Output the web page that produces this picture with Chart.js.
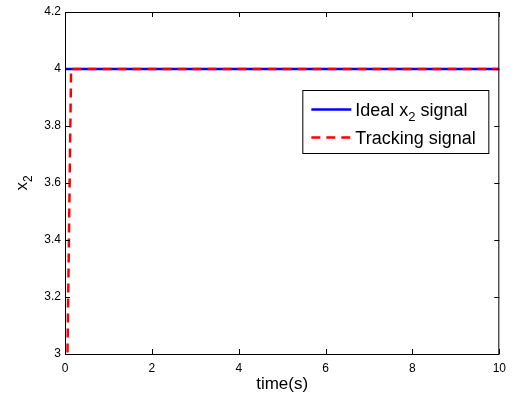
<!DOCTYPE html>
<html>
<head>
<meta charset="utf-8">
<script src="https://cdn.jsdelivr.net/npm/chart.js@4.4.1/dist/chart.umd.min.js"></script>
<style>
  body { margin: 0; background: #fff; }
  canvas { display: block; }
</style>
</head>
<body>
<canvas id="mainChart" width="513" height="397"></canvas>
<script>
// DATA
const timeIdeal = [0, 10];
const valueIdeal = [4, 4];
const timeTracking = [0.049, 0.14, 10];
const valueTracking = [2.9, 4, 4];
const legendLabels = ['Ideal x', 'Tracking signal'];

const FONT = '"Liberation Sans", Arial, Helvetica, sans-serif';

function toPoints(xs, ys) {
    return xs.map((x, i) => ({ x: x, y: ys[i] }));
}

// Box around plot + inward ticks on all sides (matlab style)
const boxPlugin = {
    id: 'box',
    afterDraw(chart) {
        const { ctx, chartArea: a, scales } = chart;
        ctx.save();
        ctx.strokeStyle = '#000';
        ctx.lineWidth = 1;
        ctx.strokeRect(a.left + 0.5, a.top + 0.5, a.right - a.left - 1, a.bottom - a.top);
        const len = 5;
        ctx.beginPath();
        scales.x.ticks.forEach(t => {
            const px = Math.round(scales.x.getPixelForValue(t.value)) + 0.5;
            ctx.moveTo(px, a.bottom); ctx.lineTo(px, a.bottom - len);
            ctx.moveTo(px, a.top); ctx.lineTo(px, a.top + len);
        });
        scales.y.ticks.forEach(t => {
            const py = Math.round(scales.y.getPixelForValue(t.value)) + 0.5;
            ctx.moveTo(a.left, py); ctx.lineTo(a.left + len, py);
            ctx.moveTo(a.right, py); ctx.lineTo(a.right - len, py);
        });
        ctx.stroke();

        // y axis title with subscript
        ctx.fillStyle = '#000';
        ctx.translate(22, (a.top + a.bottom) / 2);
        ctx.rotate(-Math.PI / 2);
        ctx.textBaseline = 'alphabetic';
        ctx.font = '17px ' + FONT;
        const w1 = ctx.measureText('x').width;
        ctx.font = '12px ' + FONT;
        const w2 = ctx.measureText('2').width;
        const x0 = -(w1 + w2) / 2;
        ctx.font = '17px ' + FONT;
        ctx.fillText('x', x0, 5);
        ctx.font = '12px ' + FONT;
        ctx.fillText('2', x0 + w1, 10);
        ctx.restore();
    }
};

// Legend drawn by hand because of the subscript
const legendPlugin = {
    id: 'customLegend',
    afterDraw(chart) {
        const { ctx, chartArea: a } = chart;
        const bw = 186, bh = 63;
        const bx = a.right - 11 - bw, by = a.top + 78;
        ctx.save();
        ctx.fillStyle = '#fff';
        ctx.fillRect(bx, by, bw, bh);
        ctx.strokeStyle = '#000';
        ctx.lineWidth = 1;
        ctx.strokeRect(bx + 0.5, by + 0.5, bw, bh);

        const ds = chart.data.datasets;
        const rows = [by + 19.5, by + 47.5];
        [1, 0].forEach((di, r) => {
            const d = ds[di];
            ctx.beginPath();
            ctx.strokeStyle = d.borderColor;
            ctx.lineWidth = d.borderWidth;
            ctx.setLineDash(d.borderDash || []);
            ctx.moveTo(bx + 9, rows[r]);
            ctx.lineTo(bx + 49, rows[r]);
            ctx.stroke();
        });
        ctx.setLineDash([]);
        ctx.fillStyle = '#000';
        ctx.textBaseline = 'alphabetic';
        const tx = bx + 53;
        ctx.font = '18px ' + FONT;
        ctx.fillText(legendLabels[0], tx, rows[0] + 6);
        let w = ctx.measureText(legendLabels[0]).width;
        ctx.font = '13px ' + FONT;
        ctx.fillText('2', tx + w, rows[0] + 11);
        w += ctx.measureText('2').width;
        ctx.font = '18px ' + FONT;
        ctx.fillText(' signal', tx + w, rows[0] + 6);
        ctx.fillText(legendLabels[1], tx, rows[1] + 6);
        ctx.restore();
    }
};

const ctx = document.getElementById('mainChart').getContext('2d');
const mainChart = new Chart(ctx, {
    type: 'line',
    data: {
        datasets: [{
            label: 'Tracking signal',
            data: toPoints(timeTracking, valueTracking),
            borderColor: '#ff0000',
            borderWidth: 2.5,
            borderDash: [9, 6],
            pointRadius: 0,
            order: 0
        }, {
            label: 'Ideal x2 signal',
            data: toPoints(timeIdeal, valueIdeal),
            borderColor: '#0000ff',
            borderWidth: 2.5,
            pointRadius: 0,
            order: 1
        }]
    },
    options: {
        responsive: false,
        animation: false,
        layout: { padding: { top: 12, right: 13, left: 0, bottom: 0 } },
        plugins: { legend: { display: false }, tooltip: { enabled: false } },
        scales: {
            x: {
                type: 'linear', min: 0, max: 10,
                grid: { drawOnChartArea: false, drawTicks: false },
                border: { display: false },
                ticks: { stepSize: 2, padding: 7, color: '#000', font: { family: FONT, size: 12 } },
                title: { display: true, text: 'time(s)', color: '#000', font: { family: FONT, size: 17 }, padding: { top: 0, bottom: 2 } },
                afterFit(scale) { scale.height = 43; }
            },
            y: {
                type: 'linear', min: 3, max: 4.2,
                grid: { drawOnChartArea: false, drawTicks: false },
                border: { display: false },
                ticks: {
                    stepSize: 0.2, padding: 4, color: '#000', font: { family: FONT, size: 12 },
                    callback: v => String(Number(v.toFixed(1)))
                },
                afterFit(scale) { scale.width = 65; }
            }
        }
    },
    plugins: [boxPlugin, legendPlugin]
});
</script>
</body>
</html>
